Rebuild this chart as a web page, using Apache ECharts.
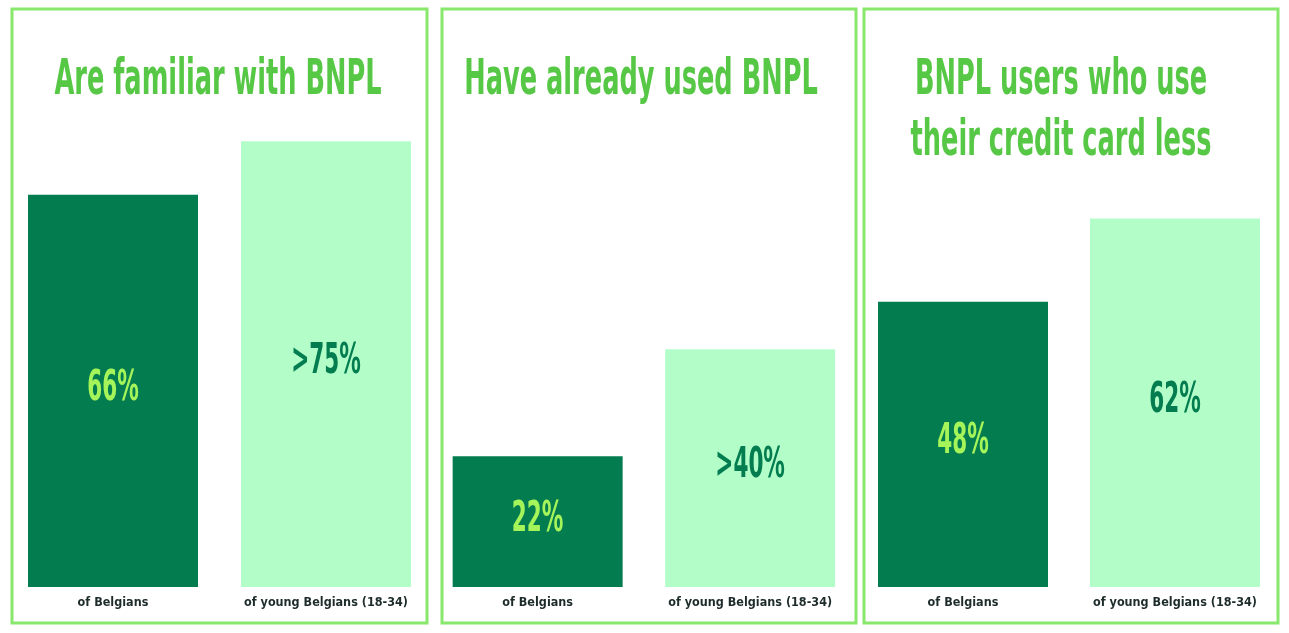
<!DOCTYPE html>
<html>
<head>
<meta charset="utf-8">
<script src="https://cdn.jsdelivr.net/npm/echarts@6/dist/echarts.min.js"></script>
<style>
  html, body { margin: 0; padding: 0; background: #fff; }
  #chart { width: 1289px; height: 633px; }
</style>
</head>
<body>
<div id="chart"></div>
<script>
// data
var categories = ['of Belgians', 'of young Belgians (18-34)'];
var familiarValues = [66, 75];
var familiarLabels = ['66%', '>75%'];
var usedValues = [22, 40];
var usedLabels = ['22%', '>40%'];
var cardLessValues = [48, 62];
var cardLessLabels = ['48%', '62%'];
var panelTitles = [
  ['Are familiar with BNPL'],
  ['Have already used BNPL'],
  ['BNPL users who use', 'their credit card less']
];

var darkGreen = '#037d4f';
var mint = '#b3fdc9';
var lime = '#a5f55a';
var titleGreen = '#57c746';
var borderGreen = '#88e86b';
var condensed = '"DejaVu Sans Condensed", sans-serif';
// no narrow display font installed, so squeeze the condensed one
var squeeze = 0.57;

var panels = [
  { values: familiarValues, labels: familiarLabels, gridLeft: 6.5, gridWidth: 426, box: [12, 9, 415, 614], titleX: 218 },
  { values: usedValues, labels: usedLabels, gridLeft: 431.4, gridWidth: 425, box: [442, 9, 414, 614], titleX: 641 },
  { values: cardLessValues, labels: cardLessLabels, gridLeft: 857, gridWidth: 424, box: [864, 9, 414, 614], titleX: 1061 }
];

var grids = [], xAxes = [], yAxes = [], series = [], graphics = [];

panels.forEach(function (p, i) {
  grids.push({ left: p.gridLeft, width: p.gridWidth, top: 52, bottom: 46 });
  xAxes.push({
    type: 'category',
    gridIndex: i,
    data: categories,
    axisLine: { show: false },
    axisTick: { show: false },
    axisLabel: {
      interval: 0,
      margin: 9,
      fontFamily: condensed,
      fontWeight: 'bold',
      fontSize: 12.5,
      color: '#1d2b2a'
    }
  });
  yAxes.push({
    type: 'value',
    gridIndex: i,
    min: 0,
    max: 90,
    show: false,
    splitLine: { show: false }
  });
  // bars
  series.push({
    type: 'bar',
    xAxisIndex: i,
    yAxisIndex: i,
    barWidth: 170,
    silent: true,
    data: p.values.map(function (v, j) {
      return { value: v, itemStyle: { color: j === 0 ? darkGreen : mint } };
    })
  });
  // value labels, placed in the middle of each bar by the axes
  series.push({
    type: 'custom',
    xAxisIndex: i,
    yAxisIndex: i,
    z: 5,
    silent: true,
    data: p.values.map(function (v, j) { return [j, v]; }),
    renderItem: function (params, api) {
      var j = params.dataIndex;
      var c = api.coord([api.value(0), api.value(1) / 2]);
      return {
        type: 'text',
        x: c[0],
        y: c[1] - 2,
        scaleX: squeeze,
        style: {
          text: p.labels[j],
          fill: j === 0 ? lime : darkGreen,
          font: 'bold 42px ' + condensed,
          align: 'center',
          verticalAlign: 'middle'
        }
      };
    }
  });
  graphics.push({
    type: 'rect',
    shape: { x: p.box[0], y: p.box[1], width: p.box[2], height: p.box[3] },
    style: { fill: null, stroke: borderGreen, lineWidth: 3 },
    silent: true
  });
  panelTitles[i].forEach(function (line, k) {
    graphics.push({
      type: 'text',
      x: p.titleX,
      y: 56 + k * 61,
      scaleX: squeeze,
      style: {
        text: line,
        fill: titleGreen,
        font: 'bold 50px ' + condensed,
        align: 'center',
        verticalAlign: 'top'
      },
      silent: true
    });
  });
});

var myChart = echarts.init(document.getElementById('chart'));
myChart.setOption({
  animation: false,
  backgroundColor: '#fff',
  grid: grids,
  xAxis: xAxes,
  yAxis: yAxes,
  series: series,
  graphic: graphics
});
</script>
</body>
</html>
